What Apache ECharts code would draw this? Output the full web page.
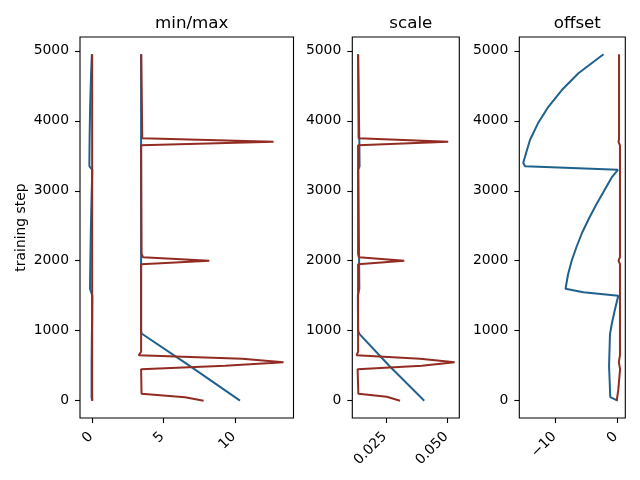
<!DOCTYPE html>
<html>
<head>
<meta charset="utf-8">
<script src="https://cdn.jsdelivr.net/npm/echarts@6/dist/echarts.min.js"></script>
<style>html,body{margin:0;padding:0;background:#fff}#c{width:640px;height:480px}</style>
</head>
<body>
<div id="c"></div>
<script>
// ---- data: [value, training step] ----
const stepTicks = [0, 1000, 2000, 3000, 4000, 5000];
const minmaxTicks = [0, 5, 10];
const scaleTicks = [0.025, 0.05];
const offsetTicks = [-10, 0];

const blueMin = [[0,0],[-0.05,50],[-0.05,500],[-0.03,950],[-0.012,1100],[-0.005,1300],[0.002,1500],[-0.08,1550],[-0.16,1600],[-0.15,1800],[-0.135,2000],[-0.12,2200],[-0.105,2400],[-0.085,2600],[-0.063,2800],[-0.04,3000],[-0.015,3200],[0.002,3300],[-0.2,3350],[-0.205,3400],[-0.19,3725],[-0.172,3964],[-0.15,4200],[-0.12,4440],[-0.084,4680],[-0.03,4950]];
const blueMax = [[10.35,0],[6.8,500],[3.45,960],[3.42,1000],[3.42,4950]];
const redMin = [[0,0],[-0.01,100],[-0.01,4950]];
const redMax = [[7.8,0],[6.5,50],[3.45,100],[3.42,450],[9.3,500],[13.4,550],[10.5,600],[3.25,650],[3.42,700],[3.42,1950],[8.2,2000],[3.55,2050],[3.45,2100],[3.42,3650],[12.7,3700],[3.5,3750],[3.43,4950]];

const blueScale = [[0.0405,0],[0.0263,500],[0.0142,955],[0.0137,1000],[0.0136,1500],[0.0142,1600],[0.0138,3300],[0.0143,3350],[0.0142,3700],[0.0137,4950]];
const redScale = [[0.0307,0],[0.0253,55],[0.0138,100],[0.0135,450],[0.0395,500],[0.0528,550],[0.0388,600],[0.0131,650],[0.0137,700],[0.0137,1950],[0.0324,2000],[0.0140,2050],[0.0137,2100],[0.0137,3650],[0.0502,3700],[0.0139,3750],[0.0137,4950]];

const blueOffset = [[0.1,0],[-1.1,50],[-1.3,500],[-1.15,950],[-0.85,1100],[-0.35,1300],[0.2,1500],[-5.5,1550],[-8.4,1600],[-8.0,1800],[-7.4,2000],[-6.6,2200],[-5.7,2400],[-4.6,2600],[-3.4,2800],[-2.1,3000],[-0.8,3200],[0.15,3300],[-15.0,3350],[-15.3,3400],[-14.2,3725],[-12.9,3964],[-11.2,4200],[-9.0,4440],[-6.3,4680],[-2.2,4950]];
const redOffset = [[-0.05,0],[0.2,150],[0.5,450],[0.3,550],[0.48,650],[0.48,1950],[0.25,2000],[0.48,2050],[0.48,3650],[0.25,3700],[0.33,3750],[0.33,4950]];

const titles = ['min/max', 'scale', 'offset'];
const BLUE = '#1f618d', RED = '#922b21';
const FONT = 'DejaVu Sans';

const grids = [
  {left: 80, top: 37, width: 213.5, height: 381},
  {left: 352.3, top: 37, width: 107, height: 381},
  {left: 519.3, top: 37, width: 106, height: 381}
];
const xRanges = [[-0.862, 14.1], [0.01135, 0.0547], [-15.94, 1.35]];
const xTicks = [minmaxTicks, scaleTicks, offsetTicks];
const xFmt = [
  v => String(v),
  v => v.toFixed(3),
  v => (v < 0 ? '\u2212' + Math.abs(v) : String(v))
];

const chart = echarts.init(document.getElementById('c'), null, {renderer: 'canvas'});
const option = {
  animation: false,
  backgroundColor: '#fff',
  title: titles.map((t, i) => ({
    text: t,
    left: grids[i].left + grids[i].width / 2,
    top: 10,
    textAlign: 'center',
    textStyle: {fontFamily: FONT, fontSize: 16.7, fontWeight: 'normal', color: '#000'}
  })),
  grid: grids.map(g => Object.assign({show: true, borderColor: '#000', borderWidth: 1.1, containLabel: false}, g)),
  xAxis: grids.map((g, i) => ({
    type: 'value', gridIndex: i, min: xRanges[i][0], max: xRanges[i][1], position: 'bottom',
    axisLine: {show: false, onZero: false},
    splitLine: {show: false},
    axisTick: {show: true, inside: false, length: 5, customValues: xTicks[i], lineStyle: {color: '#000', width: 1.1}},
    axisLabel: {customValues: xTicks[i], rotate: 45, margin: 15, formatter: xFmt[i],
      padding: [0, 2, 0, 0],
      fontFamily: FONT, fontSize: 13.9, color: '#000'}
  })),
  yAxis: grids.map((g, i) => ({
    type: 'value', gridIndex: i, min: -247.5, max: 5197.5, position: 'left',
    name: i === 0 ? 'training step' : '',
    nameLocation: 'middle', nameGap: 52, nameRotate: 90,
    nameTextStyle: {fontFamily: FONT, fontSize: 13.9, color: '#000'},
    axisLine: {show: false, onZero: false},
    splitLine: {show: false},
    axisTick: {show: true, inside: false, length: 5, customValues: stepTicks, lineStyle: {color: '#000', width: 1.1}},
    axisLabel: {customValues: stepTicks, margin: 11, formatter: v => String(v),
      fontFamily: FONT, fontSize: 13.9, color: '#000'}
  })),
  series: []
};
function line(data, color, gi, z) {
  return {type: 'line', data: data, xAxisIndex: gi, yAxisIndex: gi, showSymbol: false, symbol: 'none',
    lineStyle: {color: color, width: 2}, z: z, silent: true};
}
option.series.push(line(blueMin, BLUE, 0, 2), line(blueMax, BLUE, 0, 2), line(redMin, RED, 0, 3), line(redMax, RED, 0, 3));
option.series.push(line(blueScale, BLUE, 1, 2), line(redScale, RED, 1, 3));
option.series.push(line(blueOffset, BLUE, 2, 2), line(redOffset, RED, 2, 3));
chart.setOption(option);
</script>
</body>
</html>
